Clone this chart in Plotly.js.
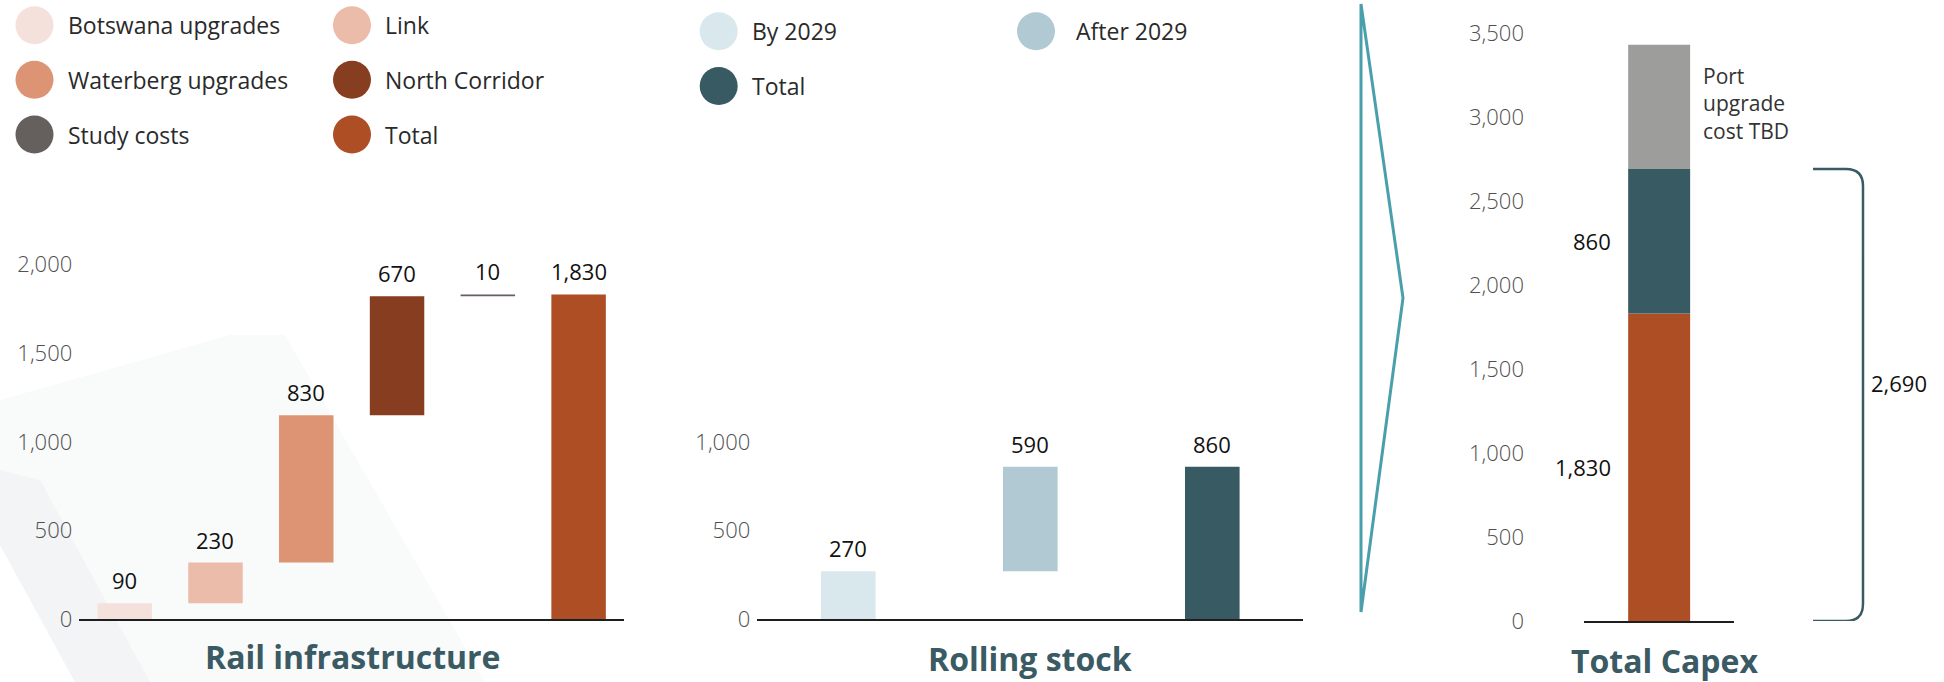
<!DOCTYPE html>
<html>
<head>
<meta charset="utf-8">
<script src="https://cdn.plot.ly/plotly-3.0.1.min.js"></script>
<style>html,body{margin:0;padding:0;background:#fff;}#chart{width:1944px;height:682px;}</style>
</head>
<body>
<div id="chart"></div>
<script>
// ---------------- data ----------------
const railLabels = ['Botswana upgrades', 'Link', 'Waterberg upgrades', 'North Corridor', 'Study costs', 'Total'];
const railValues = [90, 230, 830, 670, 10, 1830];
const railIsTotal = [false, false, false, false, false, true];
const railTicks = [0, 500, 1000, 1500, 2000];

const rollLabels = ['By 2029', 'After 2029', 'Total'];
const rollValues = [270, 590, 860];
const rollIsTotal = [false, false, true];
const rollTicks = [0, 500, 1000];

const capexLabels = ['Rail infrastructure', 'Rolling stock', 'Port upgrade'];
const capexValues = [1830, 860, 740];
const capexLabelled = [true, true, false];
const capexTicks = [0, 500, 1000, 1500, 2000, 2500, 3000, 3500];
const portNote = 'Port<br>upgrade<br>cost TBD';

const panelTitles = ['Rail infrastructure', 'Rolling stock', 'Total Capex'];

// ---------------- styles ----------------
const railColors = ['#f5e1db', '#ebbcaa', '#dc9474', '#873d1f', '#655f5d', '#ad4e24'];
const rollColors = ['#d9e8ec', '#b0c9d2', '#385a63'];
const capexColors = ['#ad4e24', '#385a63', '#9d9d9c'];
const TEAL = '#3a5a64';
const FONT = 'Open Sans, sans-serif';

const W = 1944, H = 682;
const px = x => x / W;
const py = y => 1 - y / H;
const fmt = v => v.toLocaleString('en-US');

// waterfall bases
function bases(values, isTotal) {
  let run = 0;
  return values.map((v, i) => {
    if (isTotal[i]) return 0;
    const b = run; run += v; return b;
  });
}
const railBase = bases(railValues, railIsTotal);
const rollBase = bases(rollValues, rollIsTotal);
const capexBase = bases(capexValues, capexValues.map(() => false));

const traces = [];
traces.push({
  type: 'bar', x: railLabels, y: railValues, base: railBase, width: 0.6,
  marker: {color: railColors, line: {width: 0}}, xaxis: 'x', yaxis: 'y', hoverinfo: 'skip'
});
traces.push({
  type: 'bar', x: rollLabels, y: rollValues, base: rollBase, width: 0.3,
  marker: {color: rollColors, line: {width: 0}}, xaxis: 'x2', yaxis: 'y2', hoverinfo: 'skip'
});
capexValues.forEach((v, i) => {
  traces.push({
    type: 'bar', x: [0], y: [v], base: [capexBase[i]], width: 0.414, name: capexLabels[i],
    marker: {color: capexColors[i], line: {width: 0}}, xaxis: 'x3', yaxis: 'y3', hoverinfo: 'skip'
  });
});

const annotations = [];
const shapes = [];

// very faint background light band
shapes.push({
  type: 'path', xref: 'paper', yref: 'paper', layer: 'below',
  path: `M ${px(0)},${py(400)} L ${px(230)},${py(335)} L ${px(285)},${py(335)} L ${px(485)},${py(682)} L ${px(75)},${py(682)} L ${px(0)},${py(545)} Z`,
  fillcolor: '#f9fafa', line: {width: 0}
});
shapes.push({
  type: 'path', xref: 'paper', yref: 'paper', layer: 'below',
  path: `M ${px(0)},${py(470)} L ${px(40)},${py(480)} L ${px(150)},${py(682)} L ${px(75)},${py(682)} L ${px(0)},${py(545)} Z`,
  fillcolor: '#f3f4f5', line: {width: 0}
});

// legends
function legend(labels, colors, cx, tx, rows) {
  labels.forEach((lab, i) => {
    const col = i % 2, row = Math.floor(i / 2);
    const cy = rows[row];
    shapes.push({
      type: 'circle', xref: 'paper', yref: 'paper',
      x0: px(cx[col] - 19), x1: px(cx[col] + 19), y0: py(cy + 19), y1: py(cy - 19),
      fillcolor: colors[i], line: {width: 0}
    });
    annotations.push({
      xref: 'paper', yref: 'paper', x: px(tx[col]), y: py(cy), xanchor: 'left', yanchor: 'middle',
      text: lab, showarrow: false, font: {family: FONT, size: 23, color: '#2a2a2a'}
    });
  });
}
legend(railLabels, railColors, [34.5, 352], [66, 383], [25.2, 79.8, 134.5]);
legend(rollLabels, rollColors, [718.7, 1036], [750, 1074], [31.2, 86]);

// value labels above waterfall bars
function topLabels(labels, values, base, xa, ya) {
  labels.forEach((lab, i) => {
    annotations.push({
      xref: xa, yref: ya, x: lab, y: base[i] + values[i], yanchor: 'middle', yshift: 23,
      text: fmt(values[i]), showarrow: false, font: {family: FONT, size: 22, color: '#111'}
    });
  });
}
topLabels(railLabels, railValues, railBase, 'x', 'y');
topLabels(rollLabels, rollValues, rollBase, 'x2', 'y2');

// capex segment labels
capexValues.forEach((v, i) => {
  const mid = capexBase[i] + v / 2;
  if (capexLabelled[i]) {
    annotations.push({
      xref: 'x3', yref: 'y3', x: 0, y: mid, xanchor: 'right', yanchor: 'middle', xshift: -46,
      text: fmt(v), showarrow: false, font: {family: FONT, size: 22, color: '#111'}
    });
  } else {
    annotations.push({
      xref: 'x3', yref: 'y3', x: 0, y: mid, xanchor: 'left', yanchor: 'middle', xshift: 42, yshift: 3,
      align: 'left', text: portNote, showarrow: false, font: {family: FONT, size: 21, color: '#333'}
    });
  }
});

// brace for rail + rolling stock
const braceTotal = capexValues.filter((v, i) => capexLabelled[i]).reduce((a, b) => a + b, 0);
const y3Range = [0, 3600];
const y3PxPerUnit = (621 - 16.2) / (y3Range[1] - y3Range[0]);
const rY = 17 / y3PxPerUnit;
const bx0 = px(1813), bxc = px(1863), rX = 17 / W;
shapes.push({
  type: 'path', xref: 'paper', yref: 'y3',
  path: `M ${bx0},${braceTotal} L ${bxc - rX},${braceTotal} Q ${bxc},${braceTotal} ${bxc},${braceTotal - rY} ` +
        `L ${bxc},${rY} Q ${bxc},0 ${bxc - rX},0 L ${bx0},0`,
  line: {color: TEAL, width: 2.5}
});
annotations.push({
  xref: 'paper', yref: 'y3', x: px(1869), y: braceTotal / 2, xanchor: 'left', yanchor: 'middle', yshift: 12,
  text: fmt(braceTotal), showarrow: false, font: {family: FONT, size: 22, color: '#111'}
});

// chevron divider
shapes.push({
  type: 'path', xref: 'paper', yref: 'paper',
  path: `M ${px(1361)},${py(4)} L ${px(1403)},${py(298)} L ${px(1361)},${py(612)} Z`,
  line: {color: '#4a9fac', width: 3}
});

// panel titles
const titlePos = [[353, 656], [1030, 658], [1665, 660]];
panelTitles.forEach((t, i) => {
  annotations.push({
    xref: 'paper', yref: 'paper', x: px(titlePos[i][0]), y: py(titlePos[i][1]),
    xanchor: 'center', yanchor: 'middle', text: t, showarrow: false,
    font: {family: FONT, size: 32, color: TEAL, weight: 700}
  });
});

const tickFont = {family: FONT, size: 22, color: '#505050', weight: 300};
const xBase = {showline: true, linecolor: '#1e1e1e', linewidth: 2, showticklabels: false, ticks: '',
  showgrid: false, zeroline: false, fixedrange: true};
const yBase = {showline: false, showgrid: false, zeroline: false, ticks: '', tickfont: tickFont, fixedrange: true,
  tickmode: 'array'};

const layout = {
  width: W, height: H, margin: {l: 0, r: 0, t: 0, b: 0},
  paper_bgcolor: '#fff', plot_bgcolor: 'rgba(0,0,0,0)',
  showlegend: false, barmode: 'overlay', font: {family: FONT},
  xaxis: Object.assign({}, xBase, {domain: [px(79.3), px(624)], range: [-0.5, 5.5], anchor: 'y', type: 'category'}),
  yaxis: Object.assign({}, yBase, {domain: [py(619.3), py(228.8)], range: [0, 2200], anchor: 'x',
    tickvals: railTicks, ticktext: railTicks.map(fmt), ticklabelstandoff: 6}),
  xaxis2: Object.assign({}, xBase, {domain: [px(757.3), px(1303.3)], range: [-0.5, 2.5], anchor: 'y2', type: 'category'}),
  yaxis2: Object.assign({}, yBase, {domain: [py(619.3), py(228.8)], range: [0, 2200], anchor: 'x2',
    tickvals: rollTicks, ticktext: rollTicks.map(fmt), ticklabelstandoff: 6}),
  xaxis3: Object.assign({}, xBase, {domain: [px(1584.3), px(1734)], range: [-0.5, 0.5], anchor: 'y3'}),
  yaxis3: Object.assign({}, yBase, {domain: [py(621), py(16.2)], range: y3Range, anchor: 'free',
    position: px(1528), tickvals: capexTicks, ticktext: capexTicks.map(fmt), ticklabelstandoff: 4}),
  shapes: shapes, annotations: annotations
};

Plotly.newPlot('chart', traces, layout, {displayModeBar: false, staticPlot: true});
</script>
</body>
</html>
